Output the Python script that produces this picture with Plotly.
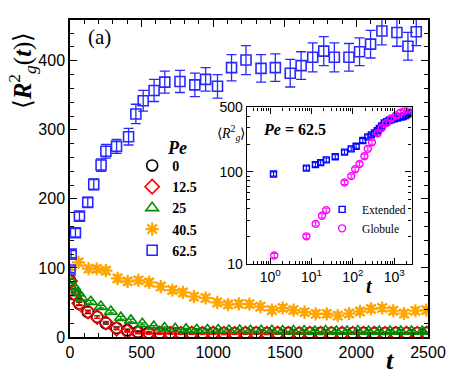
import plotly.graph_objects as go

# ---------------- main panel data ----------------
t_0 = [0, 25, 65, 125, 190, 250, 325, 400, 475, 550, 625, 700, 775, 850, 925, 1000, 1075, 1150,
       1225, 1300, 1375, 1450, 1525, 1600, 1675, 1750, 1825, 1900, 1975, 2050, 2125, 2200, 2275,
       2350, 2425, 2490]
r_0 = [82, 62, 48, 36, 29, 20, 13, 10, 7.5, 6.5, 6, 6, 5.8, 6, 5.6, 6, 5.8, 5.5, 5.8, 6, 5.6, 5.8,
       6, 5.5, 5.8, 6, 5.7, 5.5, 5.8, 6, 5.6, 5.8, 6, 5.7, 5.8, 6]
e_0 = [2.5, 2, 2, 2, 2, 1.5, 1.5, 1.5, 1.2, 1, 1, 1, 1, 1, 1, 1, 1, 1, 1, 1, 1, 1, 1, 1, 1, 1, 1, 1,
       1, 1, 1, 1, 1, 1, 1, 1]

t_12 = [0, 25, 65, 125, 190, 250, 325, 400, 475, 550, 625, 700, 775, 850, 925, 1000, 1075, 1150,
        1225, 1300, 1375, 1450, 1525, 1600, 1675, 1750, 1825, 1900, 1975, 2050, 2125, 2200, 2275,
        2350, 2425, 2490]
r_12 = [81, 64, 49, 37, 29, 21, 12, 8, 5.5, 5, 5, 4.8, 4.8, 5, 4.8, 5, 4.6, 4.8, 5, 4.8, 4.6, 5,
        4.8, 4.8, 5, 4.6, 4.8, 5, 4.8, 4.8, 5, 4.6, 4.8, 5, 4.8, 5]
e_12 = [2.5, 2, 2, 2, 2, 1.5, 1.5, 1.2, 1, 1, 1, 1, 1, 1, 1, 1, 1, 1, 1, 1, 1, 1, 1, 1, 1, 1, 1,
        1, 1, 1, 1, 1, 1, 1, 1, 1]

t_25 = [0, 30, 55, 80, 145, 215, 285, 355, 425, 505, 585, 660, 735, 810, 885, 960, 1035, 1110,
        1185, 1260, 1335, 1410, 1485, 1560, 1635, 1710, 1785, 1860, 1935, 2010, 2085, 2160, 2235,
        2310, 2385, 2460]
r_25 = [82, 72, 64, 57, 51, 44, 37, 28, 24, 19, 15, 13, 12, 11, 10.5, 10, 10, 9.5, 9.5, 9, 9, 9,
        8.5, 8.5, 8.5, 8, 8.5, 8, 8, 8.5, 8, 8, 8, 8, 8, 8]
e_25 = [2.5, 2.5, 2.5, 2.5, 2, 2, 2, 2, 2, 1.5, 1.5, 1.5, 1.5, 1.5, 1.5, 1.5, 1.5, 1.5, 1.5, 1.5,
        1.5, 1.5, 1.5, 1.5, 1.5, 1.5, 1.5, 1.5, 1.5, 1.5, 1.5, 1.5, 1.5, 1.5, 1.5, 1.5]

t_40 = [0, 60, 130, 186, 251, 332, 402, 478, 553, 634, 715, 789, 866, 947, 1028, 1104, 1179, 1253,
        1330, 1410, 1485, 1561, 1638, 1716, 1793, 1870, 1949, 2025, 2102, 2180, 2257, 2333, 2412,
        2488]
r_40 = [97, 108, 99, 98.5, 96, 85, 80.5, 82, 79, 73, 68, 64.5, 58.5, 56.5, 50, 47, 48, 47.6, 44,
        39, 42, 39, 36, 33.5, 33.5, 31, 34, 37, 40.6, 42, 38, 34, 38, 39]
e_40 = [5, 5, 5, 5, 5, 5, 5, 5, 5, 5, 5, 5, 5, 5, 5, 5, 5, 5, 5, 5, 5, 5, 5, 5, 5, 5, 5, 5, 5, 5,
        5, 5, 5, 5]

t_62 = [0, 8, 38, 66, 124, 166, 217, 251, 325, 409, 460, 511, 587, 662, 768, 872, 947, 1030, 1128,
        1229, 1334, 1434, 1538, 1614, 1695, 1772, 1846, 1948, 2022, 2099, 2178, 2283, 2360, 2418]
r_62 = [97, 120, 151, 175, 195, 221, 249, 269, 276, 290, 323, 342, 357, 369, 370, 365, 373, 363,
        390, 401, 389, 390, 382, 393, 405, 414, 405, 405, 413, 424, 443, 441, 421, 442]
e_62 = [4, 5, 6, 6, 7, 8, 9, 10, 10, 12, 14, 15, 16, 16, 16, 17, 17, 17, 19, 21, 20, 20, 20, 20,
        21, 21, 21, 20, 20, 20, 20, 20, 20, 20]

pe_labels = ["0", "12.5", "25", "40.5", "62.5"]

# ---------------- inset data (Pe = 62.5) ----------------
t_ext = [1.2, 7.5, 12.4, 16.6, 22.7, 37.5, 63, 91, 120, 174, 230, 280, 333, 390, 437, 500, 575,
         660, 760, 860, 1000, 1200, 1450, 1650, 1900, 2200, 2450]
r_ext = [95, 110, 120, 126, 135, 146, 164, 178, 190, 219, 240, 252, 265, 280, 296, 315, 339, 350,
         363, 370, 377, 385, 393, 400, 408, 425, 443]
t_glo = [1.25, 7.5, 12.6, 17.9, 22.7, 63, 91, 114, 145, 190, 230, 290, 400, 500, 650, 850, 1100,
         1400, 1750, 2130]
r_glo = [12.4, 20, 27.3, 33.4, 38.5, 76.7, 90, 107, 122, 148, 178, 210, 263, 300, 340, 380, 410,
         440, 460, 480]

inset_xticks = [1, 10, 100, 1000]
inset_xtext = ["10<sup>0</sup>", "10<sup>1</sup>", "10<sup>2</sup>", "10<sup>3</sup>"]
inset_yticks = [10, 100, 500]
inset_ytext = ["10", "100", "500"]

BLUE = "rgb(40,40,255)"
RED = "rgb(255,0,0)"
GREEN = "rgb(0,140,0)"
ORANGE = "rgb(255,165,0)"
BLACK = "rgb(0,0,0)"
MAGENTA = "rgb(255,0,255)"

SERIF = "Liberation Serif"
SANS = "Liberation Sans"

# plot-area geometry in pixels (for placing free text)
L, T, W, H = 70.5, 12.3, 360.0, 324.0


def px(xp):
    return (xp - L) / W


def py(yp):
    return (T + H - yp) / H


fig = go.Figure()


def add_main(t, r, e, name, color, symbol, size, lw, ewidth):
    fig.add_trace(go.Scatter(
        x=t, y=r, mode="markers", name=name,
        marker=dict(symbol=symbol, size=size, color=color,
                    line=dict(color=color, width=lw)),
        error_y=dict(type="data", array=e, visible=True, color=color,
                     thickness=1.3, width=ewidth),
        xaxis="x", yaxis="y", legend="legend",
    ))


add_main(t_0, r_0, e_0, pe_labels[0], BLACK, "circle-open", 11, 1.6, 3)
add_main(t_12, r_12, e_12, pe_labels[1], RED, "diamond-open", 11, 1.6, 3)
add_main(t_25, r_25, e_25, pe_labels[2], GREEN, "triangle-up-open", 11, 1.6, 3)
add_main(t_40, r_40, e_40, pe_labels[3], ORANGE, "asterisk-open", 11, 2.2, 5)
add_main(t_62, r_62, e_62, pe_labels[4], BLUE, "square-open", 10, 1.6, 5)

fig.add_trace(go.Scatter(
    x=t_ext, y=r_ext, mode="markers", name="Extended",
    marker=dict(symbol="square-open", size=6, color="rgb(0,0,255)",
                line=dict(color="rgb(0,0,255)", width=1.4)),
    error_y=dict(type="percent", value=5, visible=True, color="rgb(0,0,255)",
                 thickness=1, width=3),
    xaxis="x2", yaxis="y2", legend="legend2",
))
fig.add_trace(go.Scatter(
    x=t_glo, y=r_glo, mode="markers", name="Globule",
    marker=dict(symbol="circle-open", size=7, color=MAGENTA,
                line=dict(color=MAGENTA, width=1.4)),
    error_y=dict(type="percent", value=5, visible=True, color=MAGENTA,
                 thickness=1, width=3),
    xaxis="x2", yaxis="y2", legend="legend2",
))

axis_common = dict(showline=True, linecolor="black", linewidth=1.5, mirror="allticks",
                   ticks="inside", tickcolor="black", showgrid=False, zeroline=False)


def ann(text, x, y, size, xanchor="center", angle=0, weight="normal"):
    return dict(text=text, xref="paper", yref="paper", x=px(x), y=py(y), xanchor=xanchor,
                yanchor="middle", textangle=angle, showarrow=False,
                font=dict(family=SERIF, size=size, color="black", weight=weight))


fig.update_layout(
    width=458, height=378,
    margin=dict(l=70, r=27, t=12, b=41),
    paper_bgcolor="white", plot_bgcolor="white",
    showlegend=True,
    xaxis=dict(range=[0, 2500], domain=[0, 1], tickvals=[0, 500, 1000, 1500, 2000, 2500],
               ticklen=7, tickwidth=1.3,
               minor=dict(dtick=100, ticklen=4, ticks="inside", tickcolor="black", tickwidth=1.2),
               tickfont=dict(family=SANS, size=16, color="black"), **axis_common),
    yaxis=dict(range=[0, 459], domain=[0, 1], tickvals=[0, 100, 200, 300, 400],
               ticklen=7, tickwidth=1.3,
               minor=dict(dtick=20, ticklen=4, ticks="inside", tickcolor="black", tickwidth=1.2),
               tickfont=dict(family=SANS, size=16, color="black"), **axis_common),
    xaxis2=dict(type="log", range=[-0.566, 3.42], domain=[0.494, 0.954], anchor="y2",
                tickvals=inset_xticks, ticktext=inset_xtext, ticklen=6, tickwidth=1,
                minor=dict(tickvals=[0.4, 0.5, 0.6, 0.7, 0.8, 0.9, 2, 3, 4, 5, 6, 7, 8, 9,
                                     20, 30, 40, 50, 60, 70, 80, 90,
                                     200, 300, 400, 500, 600, 700, 800, 900, 2000],
                           ticklen=3, ticks="inside", tickcolor="black", tickwidth=1),
                tickfont=dict(family=SANS, size=14, color="black"),
                showline=True, linecolor="black", linewidth=1.3, mirror="allticks",
                ticks="inside", tickcolor="black", showgrid=False, zeroline=False),
    yaxis2=dict(type="log", range=[1, 2.699], domain=[0.23, 0.724], anchor="x2",
                tickvals=inset_yticks, ticktext=inset_ytext, ticklen=6, tickwidth=1,
                minor=dict(tickvals=[20, 30, 40, 50, 60, 70, 80, 90, 200, 300, 400],
                           ticklen=3, ticks="inside", tickcolor="black", tickwidth=1),
                tickfont=dict(family=SANS, size=14, color="black"),
                showline=True, linecolor="black", linewidth=1.3, mirror="allticks",
                ticks="inside", tickcolor="black", showgrid=False, zeroline=False),
    legend=dict(x=px(133), y=py(145), xanchor="left", yanchor="top",
                bgcolor="rgba(0,0,0,0)", borderwidth=0, tracegroupgap=0,
                font=dict(family=SERIF, size=14, color="black", weight="bold"),
                itemsizing="trace"),
    legend2=dict(x=px(324), y=py(191), xanchor="left", yanchor="top",
                 bgcolor="rgba(0,0,0,0)", borderwidth=0,
                 font=dict(family=SERIF, size=11.5, color="black")),
    annotations=[
        ann("(a)", 100, 30, 21),
        ann("⟨<b><i>R</i></b><sup>2</sup><sub><i>g</i></sub>(<b><i>t</i></b>)⟩", 22, 64, 25,
            angle=-90),
        ann("<b><i>t</i></b>", 392, 360, 26),
        ann("<b><i>Pe</i></b>", 178, 143, 18),
        ann("⟨<i>R</i><sup>2</sup><sub><i>g</i></sub>⟩", 232, 128, 14),
        ann("<b><i>Pe</i> = 62.5</b>", 263, 124, 16, xanchor="left"),
        ann("<b><i>t</i></b>", 372, 284, 20),
    ],
)

fig.write_html("out.html", config={"displayModeBar": False},
               post_script="document.body.style.margin='0px';")
